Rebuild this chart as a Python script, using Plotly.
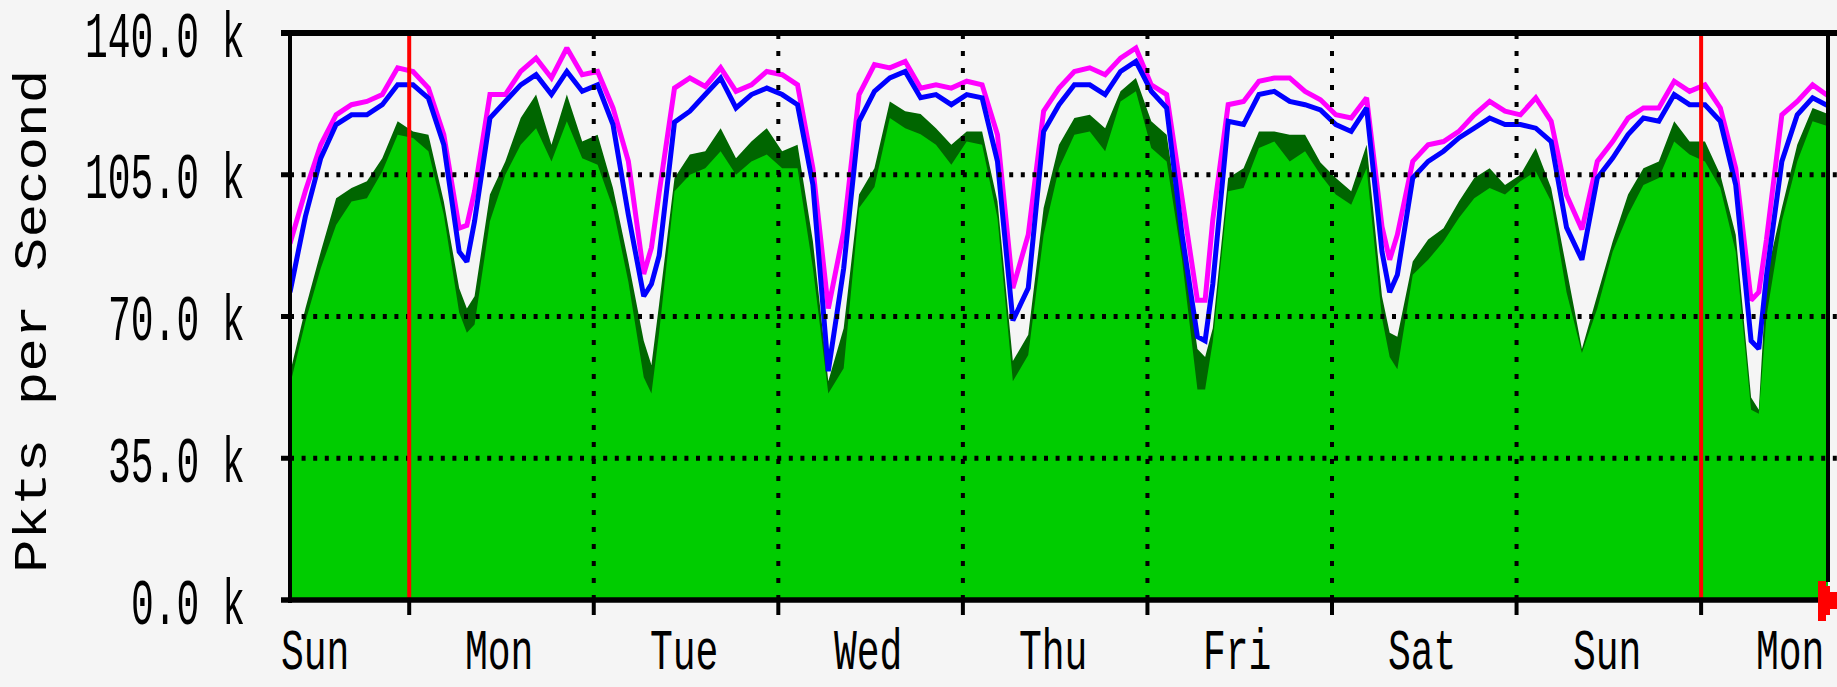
import plotly.graph_objects as go

# ---- data (thousands of packets per second), x in hours from left edge ----
HOURS = [0, 2, 4, 6, 8, 10, 12, 14, 16, 18, 20, 22, 23, 24, 26, 28, 30, 32, 34, 36, 38, 40, 42, 44, 46, 47,
         48, 50, 52, 54, 56, 58, 60, 62, 64, 66, 68, 70, 72, 74, 76, 78, 80, 82, 84, 86, 88, 90, 92, 94, 96,
         98, 100, 102, 104, 106, 108, 110, 112, 114, 116, 118, 119, 120, 122, 124, 126, 128, 130, 132, 134,
         136, 138, 140, 142, 143, 144, 146, 148, 150, 152, 154, 156, 158, 160, 162, 164, 166, 168, 170, 172,
         174, 176, 178, 180, 182, 184, 186, 188, 190, 191, 192, 194, 196, 198, 200]

MAX_OUT = [88, 101, 112.4, 119.8, 122.3, 123.1, 124.8, 131.4, 130.5, 126.4, 114.9, 91.8, 92.5, 100.9, 124.8,
           124.8, 130.5, 133.8, 128.9, 136.3, 129.7, 130.5, 121.5, 108.3, 80.5, 87, 100.5, 126.4, 128.9, 126.8,
           131.4, 125.6, 127.2, 130.5, 129.7, 127.2, 106.6, 72, 91, 124.8, 132.2, 131.4, 133, 126.4, 127.2,
           126.4, 128.1, 127.2, 114.9, 77, 90.2, 120.7, 126.4, 130.5, 131.4, 129.7, 133.8, 136.3, 127.2, 124.8,
           99.2, 74, 74, 93.9, 122.3, 123.1, 128.1, 128.9, 128.9, 125.6, 123.5, 119.8, 119, 124, 92.2, 84, 90.2,
           108.3, 112.4, 113.2, 115.7, 119.8, 123.1, 120.7, 119.8, 124, 118.2, 100, 91.5, 108.3, 113.2, 119,
           121.5, 121.5, 128.1, 125.6, 127.2, 121.5, 106.6, 74, 76, 89, 119.8, 123.1, 127.2, 124.5]

AVG_OUT = [76, 94.7, 109.1, 117.4, 119.8, 119.8, 122.3, 127.2, 127.2, 123.9, 112.4, 86, 83.5, 93.5, 119,
           123.1, 127.2, 129.7, 124.8, 130.5, 125.6, 127.2, 117.4, 95.1, 75, 78, 85, 118, 120.7, 124.8, 128.9,
           121.5, 124.8, 126.4, 124.8, 122.3, 102.5, 56.5, 81.9, 118.2, 125.6, 128.9, 130.5, 124, 124.8, 122.3,
           124.8, 124, 108.3, 69, 77, 115.7, 122.3, 127.2, 127.2, 124.8, 130.5, 133, 125.6, 121.5, 90.2, 65, 64,
           78, 118.2, 117.4, 124.8, 125.6, 123.1, 122.3, 121, 117.4, 115.7, 121.5, 86, 76, 80.3, 104.2, 108.3,
           110.8, 114.1, 116.5, 119, 117.4, 117.4, 116.5, 113.2, 92, 84, 104.2, 109.1, 114.9, 119, 118.2, 124.8,
           122.3, 122.3, 118.2, 102.5, 64, 62, 80, 108.3, 119.8, 124, 122]

MAX_IN = [56, 72, 86, 99.2, 101.7, 103.4, 109.1, 118.2, 115.7, 114.9, 98.4, 77, 72, 75, 100.1, 108.3, 119,
          124.8, 112.4, 124.8, 113.2, 114.9, 101.7, 83.6, 64, 58, 73, 104.2, 110, 110.8, 116.5, 109.1, 113.2,
          116.5, 110.8, 112.4, 88.5, 54, 67.1, 100.1, 106.6, 123.1, 120.7, 120, 116.5, 112.4, 115.7, 115.7,
          98.4, 59, 65.5, 96.8, 112.4, 119, 119.8, 116.5, 125.6, 128.9, 118.2, 114.9, 89, 62, 60, 67.1, 104.2,
          106.6, 115.7, 115.7, 114.9, 114.9, 108, 104.2, 100.9, 112.4, 75, 66, 65, 83.6, 89, 91.8, 98.4, 104.2,
          106.6, 102.5, 105, 111.6, 101.7, 82, 62, 75.3, 88.5, 100.1, 106.6, 108.3, 118.2, 113.2, 113.2, 105,
          90.2, 50, 47, 80, 96.8, 112.4, 121.5, 120]

AVG_IN = [53, 68.7, 81.9, 92.6, 98.4, 99.2, 105.8, 114.9, 114.1, 110.8, 95.1, 71, 66, 68, 93.5, 105, 112.4,
          116.5, 108.3, 118.2, 109.1, 107.5, 96.8, 78.6, 55, 51, 66, 100.9, 105, 106.6, 110.8, 105, 108.3, 110,
          106.6, 106.6, 81.9, 51, 57.2, 96.8, 102, 119, 116.5, 115, 112.4, 107.5, 113.2, 112.4, 94.3, 54, 60.5,
          90.2, 106.6, 114.9, 115.7, 110.8, 123.1, 125.6, 111.6, 108.3, 84, 52, 52, 63.8, 100.9, 101.7, 111.6,
          113.2, 108.3, 110.8, 105, 100.1, 97.6, 106.6, 69.6, 60, 57, 80.3, 84, 88.5, 94.3, 99.2, 101.7, 100.1,
          103.4, 105.8, 98.4, 76, 61, 72, 86, 95.1, 102.5, 104.2, 113.2, 110, 108.3, 101.7, 86, 47, 46, 70,
          93.5, 108.3, 118.2, 117]

Y_TICKS = [0, 35, 70, 105, 140]
DAY_BOUNDARIES = [15.5, 39.5, 63.5, 87.5, 111.5, 135.5, 159.5, 183.5]
WEEK_MARKS = [15.5, 183.5]
DAY_LABELS = ["Sun", "Mon", "Tue", "Wed", "Thu", "Fri", "Sat", "Sun", "Mon"]
DAY_LABEL_POS = [3.2, 27.2, 51.2, 75.2, 99.2, 123.2, 147.2, 171.2, 195.0]
Y_TITLE = "Pkts per Second"

assert len(HOURS) == len(MAX_OUT) == len(AVG_OUT) == len(MAX_IN) == len(AVG_IN)

# ---- layout geometry (pixels) ----
W, H = 1837, 687
L, R, T, B = 290, 9, 33, 87
PW, PH = W - L - R, H - T - B
BG = "#f5f5f5"


def px(xp):
    return (xp - L) / PW


def py(yp):
    return (H - B - yp) / PH


fig = go.Figure()
fig.add_trace(go.Scatter(x=HOURS, y=MAX_IN, mode="lines", fill="tozeroy",
                         fillcolor="#006600", line=dict(width=0, color="#006600"), hoverinfo="skip"))
fig.add_trace(go.Scatter(x=HOURS, y=AVG_IN, mode="lines", fill="tozeroy",
                         fillcolor="#00cc00", line=dict(width=0, color="#00cc00"), hoverinfo="skip"))
fig.add_trace(go.Scatter(x=HOURS, y=MAX_OUT, mode="lines",
                         line=dict(width=5, color="#ff00ff"), hoverinfo="skip"))
fig.add_trace(go.Scatter(x=HOURS, y=AVG_OUT, mode="lines",
                         line=dict(width=5, color="#0000ff"), hoverinfo="skip"))

shapes = []
# horizontal dotted grid + solid ticks
for v in Y_TICKS[1:-1]:
    shapes.append(dict(type="line", xref="paper", yref="y", x0=0, x1=px(W), y0=v, y1=v,
                       line=dict(color="black", width=5, dash="4px,7.6px"), layer="above"))
    shapes.append(dict(type="line", xref="paper", yref="y", x0=px(281), x1=px(292), y0=v, y1=v,
                       line=dict(color="black", width=5), layer="above"))
# vertical dotted grid
for d in DAY_BOUNDARIES:
    if d not in WEEK_MARKS:
        shapes.append(dict(type="line", xref="x", yref="paper", x0=d, x1=d, y0=0, y1=1,
                           line=dict(color="black", width=4, dash="5px,12px"), layer="above"))
    shapes.append(dict(type="line", xref="x", yref="paper", x0=d, x1=d, y0=py(600), y1=py(615),
                       line=dict(color="black", width=4), layer="above"))
# red week markers
for d in WEEK_MARKS:
    shapes.append(dict(type="line", xref="x", yref="paper", x0=d, x1=d, y0=py(598), y1=1,
                       line=dict(color="#ff0000", width=4), layer="above"))
# frame
shapes.append(dict(type="line", xref="paper", yref="paper", x0=px(281), x1=px(W), y0=py(33), y1=py(33),
                   line=dict(color="black", width=6), layer="above"))
shapes.append(dict(type="line", xref="paper", yref="paper", x0=px(281), x1=px(1818), y0=py(600), y1=py(600),
                   line=dict(color="black", width=5.5), layer="above"))
shapes.append(dict(type="line", xref="paper", yref="paper", x0=px(290), x1=px(290), y0=py(603), y1=py(31),
                   line=dict(color="black", width=4), layer="above"))
shapes.append(dict(type="line", xref="paper", yref="paper", x0=px(1828), x1=px(1828), y0=py(582), y1=py(31),
                   line=dict(color="black", width=4), layer="above"))
# red arrow
arrow_pts = [(1818, 581), (1826, 581), (1826, 586), (1830, 586), (1830, 592), (1837, 592), (1837, 609),
             (1830, 609), (1830, 615), (1826, 615), (1826, 621), (1818, 621)]
path = "M " + " L ".join(f"{px(a):.5f},{py(b):.5f}" for a, b in arrow_pts) + " Z"
shapes.append(dict(type="path", xref="paper", yref="paper", path=path, fillcolor="#ff0000",
                   line=dict(width=0), layer="above"))

ann = []
font = dict(family="Liberation Mono, DejaVu Sans Mono, monospace", size=38, color="black")
for v in Y_TICKS:
    ann.append(dict(text=f"{v:.1f} k", xref="paper", yref="y", x=px(247), y=v, yshift=-6,
                    xanchor="right", yanchor="middle", showarrow=False, font=font))
for lab, pos in zip(DAY_LABELS, DAY_LABEL_POS):
    ann.append(dict(text=lab, xref="x", yref="paper", x=pos, y=py(653), xanchor="center",
                    yanchor="middle", showarrow=False, font=font))
ann.append(dict(text=Y_TITLE, xref="paper", yref="paper", x=px(33), y=py(322), textangle=-90,
                xanchor="center", yanchor="middle", showarrow=False,
                font=dict(family="Liberation Mono, DejaVu Sans Mono, monospace", size=47, color="black")))

fig.update_layout(
    width=W, height=H, margin=dict(l=L, r=R, t=T, b=B, pad=0),
    paper_bgcolor=BG, plot_bgcolor=BG, showlegend=False,
    xaxis=dict(range=[0, 200], showgrid=False, zeroline=False, showticklabels=False, ticks="",
               showline=False, fixedrange=True),
    yaxis=dict(range=[0, 140], showgrid=False, zeroline=False, showticklabels=False, ticks="",
               showline=False, fixedrange=True),
    shapes=shapes, annotations=ann,
)

post = """
document.body.style.margin = '0';
document.body.style.padding = '0';
document.body.style.overflow = 'hidden';
document.body.style.background = '#f5f5f5';
var days = ['Sun','Mon','Tue','Wed','Thu','Fri','Sat'];
document.querySelectorAll('.annotation-text').forEach(function(t){
  var s = t.textContent;
  t.style.transformBox = 'fill-box';
  t.style.transformOrigin = 'center';
  if (s.indexOf('Pkts') === 0) { t.style.transform = 'scale(1.19,1)'; }
  else if (days.indexOf(s) >= 0) { t.style.transform = 'scale(1,1.5)'; }
  else { t.style.transform = 'scale(1,1.7)'; }
});
"""
fig.write_html("out.html", post_script=post, config={"displayModeBar": False})
